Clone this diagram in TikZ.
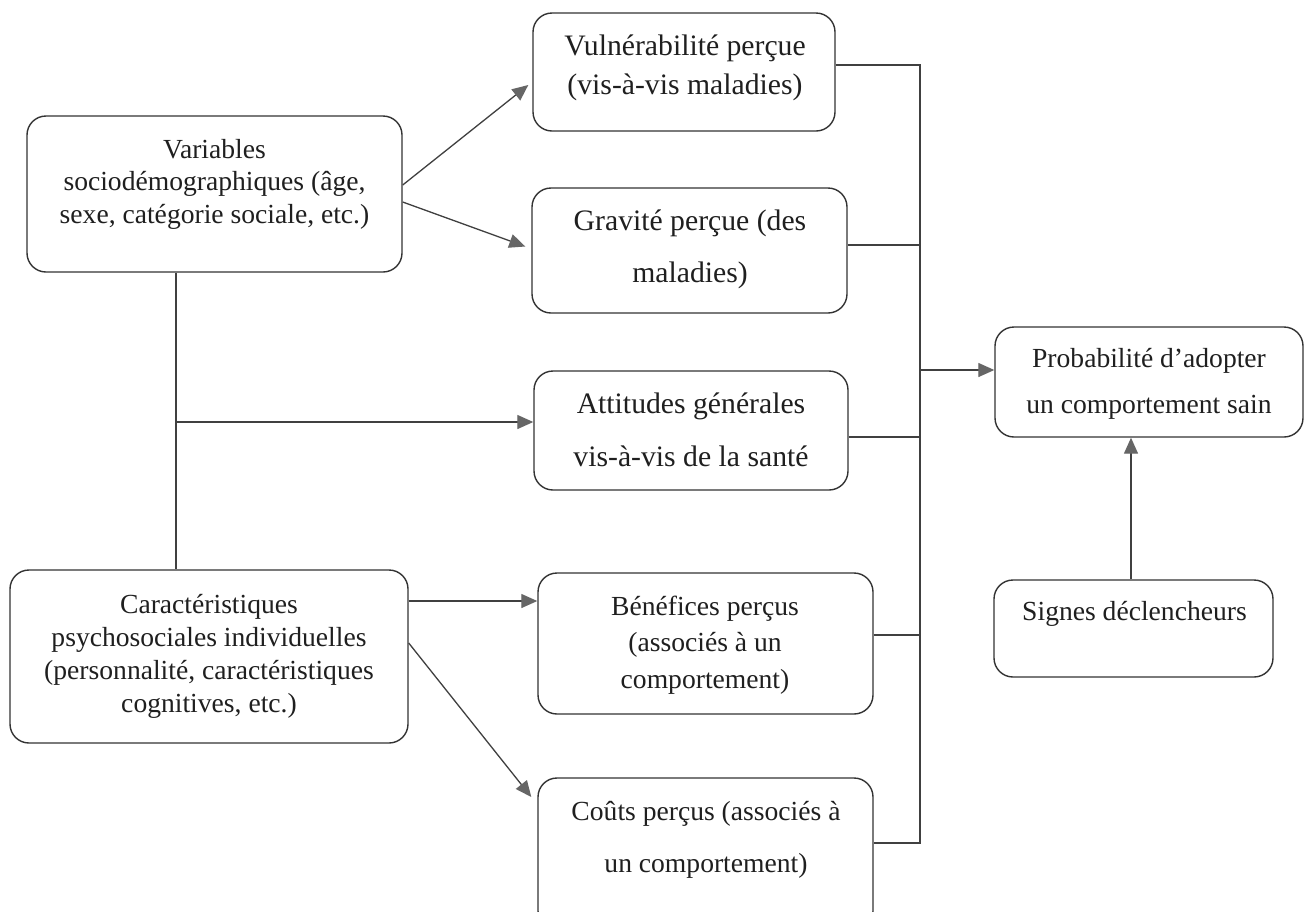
\documentclass[tikz,border=0pt]{standalone}
\usepackage{fontspec}
\setmainfont{Liberation Serif}
\usetikzlibrary{arrows.meta,calc}
\newcommand{\tbx}[3]{\fontsize{#1}{#2}\selectfont\begin{tabular}[t]{@{}c@{}}#3\end{tabular}}
\begin{document}
\begin{tikzpicture}[x=1pt,y=-1pt,
  box/.style={draw=black!80, line width=1.4pt, rounded corners=19pt, inner sep=0pt},
  txt/.style={inner sep=0pt, anchor=base, text=black!88},
  ln/.style={draw=black!75, line width=1.3pt},
  arr/.style={draw=black!75, line width=1.3pt, -{Triangle[length=16pt,width=14pt,color=black!60]}}]
\useasboundingbox (0,0) rectangle (1309,911);
\clip (0,0) rectangle (1309,911);
\fill[white] (0,0) rectangle (1309,911);

% boxes
\node[box, minimum width=375pt, minimum height=156pt] (var) at (214.5,194) {};
\node[box, minimum width=398pt, minimum height=173pt] (car) at (209,656.5) {};
\node[box, minimum width=302pt, minimum height=118pt] (vul) at (684,72) {};
\node[box, minimum width=315pt, minimum height=125pt] (gra) at (689.5,250.5) {};
\node[box, minimum width=314pt, minimum height=119pt] (att) at (691,430.5) {};
\node[box, minimum width=335pt, minimum height=141pt] (ben) at (705.5,643.5) {};
\node[box, minimum width=335pt, minimum height=152pt] (cou) at (705.5,854) {};
\node[box, minimum width=308pt, minimum height=110pt] (pro) at (1149,382) {};
\node[box, minimum width=279pt, minimum height=97pt] (sig) at (1133.5,628.5) {};

% texts
\node[txt] (varT) at (214.5,158) {\tbx{27.6}{32.5}{Variables\\ sociodémographiques (âge,\\ sexe, catégorie sociale, etc.)}};
\node[txt] (carT) at (209,613) {\tbx{27.6}{33}{Caractéristiques\\ psychosociales individuelles\\ (personnalité, caractéristiques\\ cognitives, etc.)}};
\node[txt] (vulT) at (685,55) {\tbx{29.7}{39.5}{Vulnérabilité perçue\\ (vis-à-vis maladies)}};
\node[txt] (graT) at (690,230) {\tbx{29.7}{52}{Gravité perçue (des\\ maladies)}};
\node[txt] (attT) at (691,413) {\tbx{29.7}{53}{Attitudes générales\\ vis-à-vis de la santé}};
\node[txt] (benT) at (705,615) {\tbx{27.6}{36.5}{Bénéfices perçus\\ (associés à un\\ comportement)}};
\node[txt] (couT) at (706,820) {\tbx{27.6}{52}{Coûts perçus (associés à\\ un comportement)}};
\node[txt] (proT) at (1149,367) {\tbx{27.6}{46}{Probabilité d’adopter\\ un comportement sain}};
\node[txt] (sigT) at (1134.5,620) {\tbx{27.6}{33}{Signes déclencheurs}};

% helper coordinates
\coordinate (bt) at (920,65);
\coordinate (bb) at (920,843);
\coordinate (j) at (176,422);

% left connectors
\draw[ln] ($(var.south)+(-38.5,0)$) -- ($(car.north)+(-33,0)$);
\draw[arr] (j) -- (j -| att.west);
\draw[arr] ($(var.east)+(0,-9)$) -- ($(vul.west)+(-4,13)$);
\draw[arr] ($(var.east)+(0,8)$) -- ($(gra.west)+(-6,-4)$);
\path ($(car.east)+(0,-55.5)$) coordinate (c1);
\draw[arr] (c1) -- (c1 -| ben.west);
\draw[arr] ($(car.east)+(0,-13.5)$) -- ($(cou.west)+(-6,-57)$);

% right bus
\draw[ln] ($(vul.east)+(0,-7)$) -- (bt) -- (bb) -- ($(cou.east)+(0,-11)$);
\path ($(gra.east)+(0,-5.5)$) coordinate (g1);
\draw[ln] (g1) -- (g1 -| bt);
\path ($(att.east)+(0,6.5)$) coordinate (a1);
\draw[ln] (a1) -- (a1 -| bt);
\path ($(ben.east)+(0,-8.5)$) coordinate (b1);
\draw[ln] (b1) -- (b1 -| bt);
\path ($(pro.west)+(0,-12)$) coordinate (p1);
\draw[arr] (p1 -| bt) -- (p1);
\path ($(sig.north)+(-2.5,0)$) coordinate (s1);
\draw[arr] (s1) -- (s1 |- pro.south);
\end{tikzpicture}
\end{document}
